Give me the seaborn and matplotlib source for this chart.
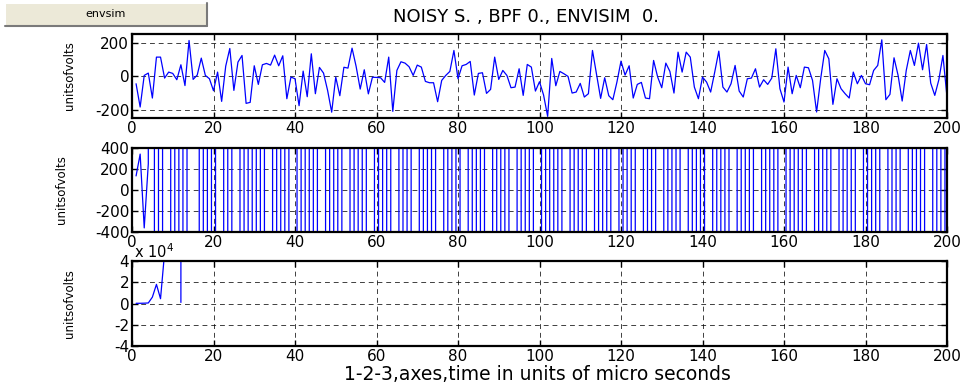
import numpy as np
import pandas as pd
import matplotlib
matplotlib.use("Agg")
import matplotlib.pyplot as plt
import seaborn as sns
from matplotlib.patches import Rectangle
from matplotlib.lines import Line2D

sns.set_theme(style="white")
plt.rcParams['font.family'] = ['DejaVu Sans']
plt.rcParams['text.color'] = 'black'
plt.rcParams['axes.labelcolor'] = 'black'
plt.rcParams['xtick.color'] = 'black'
plt.rcParams['ytick.color'] = 'black'

time_us = list(range(1, 201))

noisy = [-44, -184, 6, 20, -130, 116, 116, -10, 26, 18,
         -20, 70, -55, 216, -18, 8, 110, 6, -14, -86,
         26, -150, 62, 168, -84, 86, 126, -162, -156, 64,
         -48, 70, 78, 68, 128, 64, 124, -134, -4, -14,
         -176, 32, -122, 136, -104, 54, 20, -84, -215, -4,
         -116, 55, 50, 170, 60, -76, 40, -105, -5, -6,
         -8, -36, 116, -210, 36, 88, 80, 58, 6, 68,
         56, -30, -38, -38, -152, -24, 6, 30, 156, -14,
         64, 72, 90, -112, 18, 22, -102, -78, 116, -18,
         36, 6, -68, -64, 46, -114, 72, 56, -88, -32,
         -112, -240, 108, -56, 30, 16, 0, -100, -94, -42,
         -124, -104, 156, 10, -132, -8, -116, -140, -34, 92,
         8, 64, -130, -48, -36, -130, -134, 96, -4, -68,
         80, 30, -100, 146, 26, 146, 116, -64, -134, -4,
         -34, -94, 26, 152, -64, -94, -44, 66, -88, -124,
         -14, -10, 46, -64, -20, -48, -10, 166, -74, -154,
         56, -104, 6, -68, 56, 52, -24, -214, -14, 156,
         106, -168, -14, -74, -104, -130, 26, -44, 6, -44,
         -50, 36, 66, 220, -140, -108, 112, 6, -148, 36,
         156, 66, 200, 40, 192, -40, -114, -20, 126, -124]

bpf = [134, 342, -361, 250,
       9e5, -9e5, 9e5, -9e5, -9e5, 9e5, -9e5, 9e5, -9e5, 9e5,
       9e5, 9e5, -9e5, 9e5, -9e5, 9e5, -9e5, -9e5, 9e5, -9e5,
       9e5, 9e5, -9e5, 9e5, -9e5, 9e5, -9e5, 9e5, -9e5, -9e5,
       9e5, -9e5, 9e5, -9e5, 9e5, 9e5, -9e5, 9e5, -9e5, 9e5,
       -9e5, 9e5, 9e5, -9e5, 9e5, -9e5, 9e5, -9e5, -9e5, 9e5,
       -9e5, 9e5, -9e5, 9e5, 9e5, -9e5, 9e5, -9e5, 9e5, -9e5,
       -9e5, 9e5, -9e5, 9e5, -9e5, -9e5, 9e5, -9e5, 9e5, -9e5,
       9e5, 9e5, -9e5, 9e5, -9e5, 9e5, -9e5, -9e5, 9e5, -9e5,
       9e5, -9e5, 9e5, 9e5, -9e5, 9e5, -9e5, 9e5, -9e5, -9e5,
       9e5, -9e5, 9e5, -9e5, 9e5, 9e5, -9e5, 9e5, -9e5, 9e5,
       -9e5, 9e5, 9e5, -9e5, 9e5, -9e5, 9e5, -9e5, -9e5, 9e5,
       -9e5, 9e5, -9e5, 9e5, 9e5, -9e5, 9e5, -9e5, 9e5, -9e5,
       -9e5, 9e5, -9e5, 9e5, -9e5, -9e5, 9e5, -9e5, 9e5, -9e5,
       9e5, 9e5, -9e5, 9e5, -9e5, 9e5, -9e5, -9e5, 9e5, -9e5,
       9e5, -9e5, 9e5, 9e5, -9e5, 9e5, -9e5, 9e5, -9e5, -9e5,
       9e5, -9e5, 9e5, -9e5, 9e5, 9e5, -9e5, 9e5, -9e5, 9e5,
       -9e5, 9e5, 9e5, -9e5, 9e5, -9e5, 9e5, -9e5, -9e5, 9e5,
       -9e5, 9e5, -9e5, 9e5, 9e5, -9e5, 9e5, -9e5, 9e5, -9e5,
       -9e5, 9e5, -9e5, 9e5, -9e5, -9e5, 9e5, -9e5, 9e5, -9e5,
       9e5, 9e5, -9e5, 9e5, -9e5, 9e5]

envsim = [200, 200, 300, 500, 6000, 18000, 4500, 48000, 6e5, 9e6,
          2e8, 1000] + [np.nan] * 188

title_text = "NOISY S. , BPF 0., ENVISIM  0."
xlabel_text = "1-2-3,axes,time in units of micro seconds"
ylabel_text = "unitsofvolts"
button_text = "envsim"
xticks = list(range(0, 201, 20))

W, H = 971, 386
fig = plt.figure(figsize=(W / 100, H / 100), dpi=100)
fig.patch.set_facecolor("white")


def px_axes(left, top, right, bottom):
    return fig.add_axes([left / W, 1 - bottom / H, (right - left) / W, (bottom - top) / H])


ax1 = px_axes(132, 34, 947, 118)
ax2 = px_axes(132, 148, 947, 232)
ax3 = px_axes(132, 261, 947, 346)

series = [
    (ax1, noisy, (-250, 255), [-200, 0, 200], ["-200", "0", "200"]),
    (ax2, bpf, (-400, 400), [-400, -200, 0, 200, 400], ["-400", "-200", "0", "200", "400"]),
    (ax3, envsim, (-4e4, 4e4), [-4e4, -2e4, 0, 2e4, 4e4], ["-4", "-2", "0", "2", "4"]),
]

for ax, vals, ylim, yt, ytl in series:
    df = pd.DataFrame({"t": time_us, "v": vals})
    sns.lineplot(data=df, x="t", y="v", ax=ax, color="#0000ff", lw=0.9,
                 estimator=None, sort=False)
    ax.set_xlim(0, 200)
    ax.set_ylim(*ylim)
    ax.set_xticks(xticks)
    ax.set_xticklabels([str(t) for t in xticks], fontsize=11)
    ax.set_yticks(yt)
    ax.set_yticklabels(ytl, fontsize=11)
    ax.set_xlabel("")
    ax.set_ylabel("")
    ax.grid(True, color="black", linestyle=(0, (5, 4)), linewidth=0.7, alpha=0.75)
    ax.tick_params(direction="in", length=4, width=1, top=True, right=True,
                   bottom=True, left=True, pad=2, colors="black",
                   labelcolor="black")
    for sp in ax.spines.values():
        sp.set_color("black")
        sp.set_linewidth(1.6)
        sp.set_visible(True)
    ax.set_facecolor("white")

fig.text(526 / W, 1 - 17 / H, title_text, ha="center", va="center", fontsize=13,
         color="black")
fig.text(537 / W, 1 - 375 / H, xlabel_text, ha="center", va="center", fontsize=13.5,
         color="black")
for yc, xc in [((34 + 118) / 2, 69), ((148 + 232) / 2, 62), ((261 + 346) / 2, 69)]:
    fig.text(xc / W, 1 - yc / H, ylabel_text, rotation=90, ha="center", va="center",
             fontsize=8.5, color="black")
fig.text(134 / W, 1 - 252 / H, r"x 10$^{4}$", ha="left", va="center", fontsize=10.5,
         color="black")

# button
bx0, by0, bx1, by1 = 5, 3, 207, 26
fig.add_artist(Rectangle((bx0 / W, 1 - by1 / H), (bx1 - bx0) / W, (by1 - by0) / H,
                         transform=fig.transFigure, facecolor="#ECE9D8",
                         edgecolor="none"))
fig.add_artist(Line2D([bx0 / W, bx1 / W], [1 - by0 / H, 1 - by0 / H],
                      transform=fig.transFigure, color="white", lw=1.5))
fig.add_artist(Line2D([bx0 / W, bx0 / W], [1 - by0 / H, 1 - by1 / H],
                      transform=fig.transFigure, color="white", lw=1.5))
fig.add_artist(Line2D([bx0 / W, bx1 / W], [1 - by1 / H, 1 - by1 / H],
                      transform=fig.transFigure, color="#7a7a7a", lw=1.5))
fig.add_artist(Line2D([bx1 / W, bx1 / W], [1 - by0 / H, 1 - by1 / H],
                      transform=fig.transFigure, color="#7a7a7a", lw=1.5))
fig.text((bx0 + bx1) / 2 / W, 1 - 14 / H, button_text, ha="center", va="center",
         fontsize=8, color="black")

fig.savefig("out.png", dpi=100, facecolor="white")
